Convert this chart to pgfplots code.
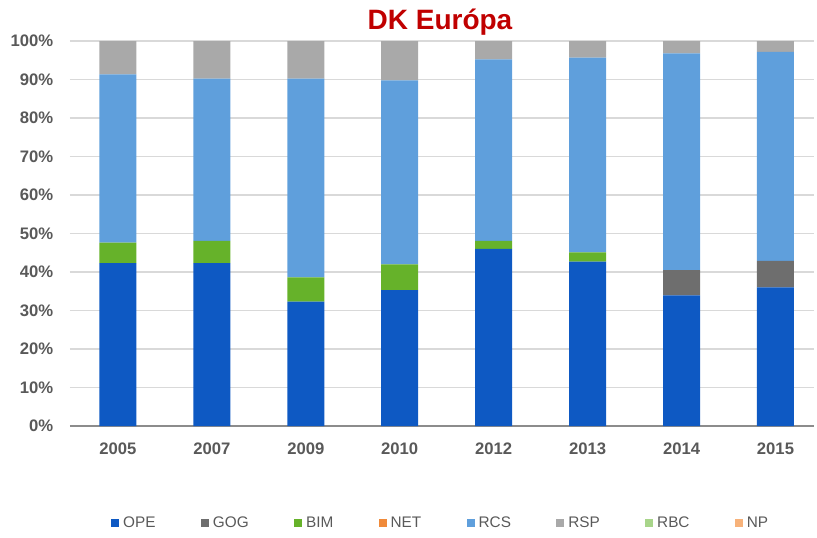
\documentclass[border=0pt]{standalone}
\usepackage{pgfplots}
\pgfplotsset{compat=1.18}
\usepackage{fontspec}
\setmainfont{Liberation Sans}
\definecolor{cOPE}{HTML}{0E59C3}
\definecolor{cGOG}{HTML}{6E6E6E}
\definecolor{cBIM}{HTML}{66B22A}
\definecolor{cNET}{HTML}{F08A3A}
\definecolor{cRCS}{HTML}{5F9FDC}
\definecolor{cRSP}{HTML}{A9A9A9}
\definecolor{cRBC}{HTML}{A8D58A}
\definecolor{cNP}{HTML}{F7B27A}
\definecolor{tick}{HTML}{595959}
\begin{document}
\begin{tikzpicture}
\path[use as bounding box] (0,0) rectangle (612.75pt,402.75pt);
\begin{axis}[
  at={(52.5pt,83.25pt)}, anchor=south west,
  scale only axis, width=558pt, height=288.75pt,
  ybar stacked, bar width=27.75pt,
  xmin=-0.51, xmax=7.41, ymin=0, ymax=100,
  xtick={0,...,7},
  xticklabels={2005,2007,2009,2010,2012,2013,2014,2015},
  ytick={0,10,...,100},
  yticklabel={\pgfmathprintnumber{\tick}\%},
  /pgf/number format/assume math mode=true,
  ticklabel style={font=\fontsize{12.5}{14}\selectfont\bfseries, text=tick},
  xticklabel style={yshift=-9pt},
  yticklabel style={xshift=-9pt},
  major tick length=0pt,
  ymajorgrids, grid style={draw=black!15, line width=1pt},
  axis x line*=bottom, axis y line*=left,
  y axis line style={draw=none},
  x axis line style={draw=black!45, line width=1.2pt, -},
  legend style={at={(0.4987,-0.252)}, anchor=center, draw=none, fill=none,
    legend columns=8, font=\fontsize{11.5}{13}\selectfont, text=tick,
    /tikz/every even column/.append style={column sep=32pt},
    /tikz/every odd column/.append style={column sep=1pt}},
  legend image code/.code={\fill[#1] (0pt,-3pt) rectangle (6pt,3pt);},
  clip=false,
]
\addplot[fill=cOPE, draw=none] coordinates {(0,42.3) (1,42.3) (2,32.3) (3,35.3) (4,46.0) (5,42.7) (6,33.9) (7,36.0)};
\addplot[fill=cGOG, draw=none] coordinates {(0,0) (1,0) (2,0) (3,0) (4,0) (5,0) (6,6.6) (7,6.9)};
\addplot[fill=cBIM, draw=none] coordinates {(0,5.3) (1,5.8) (2,6.3) (3,6.7) (4,2.1) (5,2.4) (6,0) (7,0)};
\addplot[fill=cNET, draw=none] coordinates {(0,0) (1,0) (2,0) (3,0) (4,0) (5,0) (6,0) (7,0)};
\addplot[fill=cRCS, draw=none] coordinates {(0,43.7) (1,42.1) (2,51.6) (3,47.8) (4,47.1) (5,50.6) (6,56.3) (7,54.3)};
\addplot[fill=cRSP, draw=none] coordinates {(0,8.7) (1,9.8) (2,9.8) (3,10.2) (4,4.8) (5,4.3) (6,3.2) (7,2.8)};
\addplot[fill=cRBC, draw=none] coordinates {(0,0) (1,0) (2,0) (3,0) (4,0) (5,0) (6,0) (7,0)};
\addplot[fill=cNP, draw=none] coordinates {(0,0) (1,0) (2,0) (3,0) (4,0) (5,0) (6,0) (7,0)};
\legend{OPE,GOG,BIM,NET,RCS,RSP,RBC,NP}
\end{axis}
\node[font=\fontsize{21}{24}\selectfont\bfseries, text={rgb,255:red,192;green,0;blue,0}] at (330pt,386.25pt) {DK Európa};
\end{tikzpicture}
\end{document}
